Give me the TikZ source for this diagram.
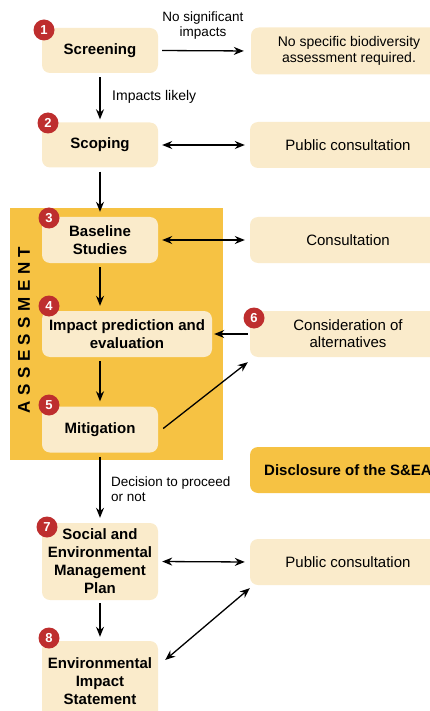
\documentclass[tikz,border=0pt]{standalone}
\usepackage{fontspec}
\setmainfont{Liberation Sans}
\usetikzlibrary{arrows.meta,calc}
\definecolor{cream}{HTML}{FAEBCB}
\definecolor{gold}{HTML}{F6C243}
\definecolor{badgered}{HTML}{BE2E2E}
\begin{document}
\begin{tikzpicture}[x=1pt,y=-1pt,
  lbox/.style={fill=cream,rounded corners=8pt,minimum width=116pt,align=center,inner sep=1pt,font=\fontsize{15}{18}\selectfont\bfseries},
  rbox/.style={fill=cream,rounded corners=8pt,minimum width=196pt,minimum height=46pt,align=center,inner sep=2pt,font=\fontsize{15}{17}\selectfont},
  badge/.style={circle,fill=badgered,text=white,inner sep=0pt,minimum size=21pt,font=\fontsize{13}{14}\selectfont\bfseries},
  lbl/.style={font=\fontsize{13.5}{15}\selectfont,inner sep=0pt},
  arr/.style={line width=1.3pt,-{Stealth[length=10pt,width=8pt]}},
  darr/.style={line width=1.3pt,{Stealth[length=10pt,width=8pt]}-{Stealth[length=10pt,width=8pt]}}
]
\useasboundingbox (0,0) rectangle (430,711);
\clip (0,0) rectangle (430,711);
% assessment panel
\fill[gold] (10,208) rectangle (223,460);
\node[rotate=90,font=\fontsize{17}{18}\selectfont\bfseries,inner sep=0pt] (asstxt) at (24,330)
  {A\kern5.5pt S\kern5.5pt S\kern5.5pt E\kern5.5pt S\kern5.5pt S\kern5.5pt M\kern5.5pt E\kern5.5pt N\kern5.5pt T};
% left boxes
\node[lbox,minimum height=45pt] (scr) at (100,50.5) {Screening};
\node[lbox,minimum height=45pt] (scp) at (100,145) {Scoping};
\node[lbox,minimum height=46pt] (base) at (100,240) {Baseline\\Studies};
\node[lbox,minimum height=46pt,minimum width=170pt] (imp) at (127,334) {Impact prediction and\\evaluation};
\node[lbox,minimum height=46pt] (mit) at (100,429.5) {Mitigation};
\node[lbox,minimum height=77pt] (semp) at (100,561.5) {Social and\\Environmental\\Management\\Plan};
\node[lbox,minimum height=80pt] (eis) at (100,681) {Environmental\\Impact\\Statement};
% right boxes
\node[rbox,minimum height=47pt,font=\fontsize{14}{16}\selectfont] (nospec) at (349,51) {No specific biodiversity\\assessment required.};
\node[rbox] (pc1) at (348,145) {Public consultation};
\node[rbox] (cons) at (348,240) {Consultation};
\node[rbox] (alt) at (348,334) {Consideration of\\alternatives};
\node[rbox,fill=gold,font=\fontsize{15}{17}\selectfont\bfseries] (disc) at (348,470) {Disclosure of the S\&EA};
\node[rbox] (pc2) at (348,562) {Public consultation};
% badges
\node[badge] (b1) at (44,30) {1};
\node[badge] (b2) at (48,123) {2};
\node[badge] (b3) at (49,218) {3};
\node[badge] (b4) at (49,306) {4};
\node[badge] (b5) at (49,405) {5};
\node[badge] (b6) at (254,318) {6};
\node[badge] (b7) at (47,527) {7};
\node[badge] (b8) at (49,638) {8};
% connectors
\draw[arr,shorten <=4pt,shorten >=7pt] (scr.east) -- (nospec.west);
\node[lbl,align=center] (lns) at (203,25.5) {No significant\\impacts};
\draw[arr,shorten <=4pt,shorten >=3pt] (scr.south) -- (scp.north);
\node[lbl,anchor=west,font=\fontsize{14}{15}\selectfont] (lil) at (112,97) {Impacts likely};
\draw[darr,shorten <=4pt,shorten >=5pt] (scp.east) -- (pc1.west);
\draw[arr,shorten <=4pt,shorten >=5pt] (scp.south) -- (base.north);
\draw[darr,shorten <=4pt,shorten >=5pt] (base.east) -- (cons.west);
\draw[arr,shorten <=4pt,shorten >=5pt] (base.south) -- (imp.north -| base.south);
\draw[arr,shorten <=2pt,shorten >=2pt] (alt.west) -- (imp.east);
\draw[arr,shorten <=4pt,shorten >=5pt] (imp.south -| mit.north) -- (mit.north);
\draw[arr] ($(mit.east)+(5,-1)$) -- ($(alt.south west)+(-2,5)$);
\draw[arr,shorten <=4pt,shorten >=5pt] (mit.south) -- (semp.north);
\node[lbl,anchor=north west,align=left] (ldp) at (111,477) {Decision to proceed\\or not};
\draw[darr,shorten <=4pt,shorten >=5pt] (semp.east) -- (pc2.west);
\draw[arr,shorten <=3pt,shorten >=4pt] (semp.south) -- (eis.north);
\draw[darr] ($(eis.east)+(7,-21)$) -- ($(pc2.south west)+(0,3)$);
\end{tikzpicture}
\end{document}
